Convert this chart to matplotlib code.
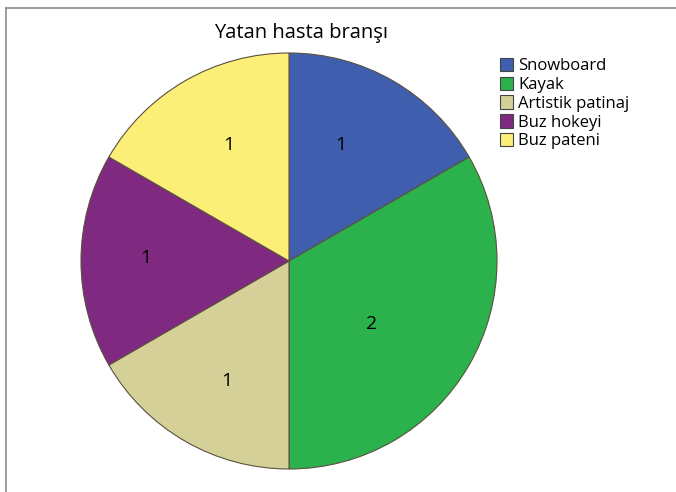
import matplotlib.pyplot as plt
from matplotlib.lines import Line2D
from matplotlib.patches import Patch
import numpy as np

plt.rcParams['font.family'] = ['Open Sans', 'DejaVu Sans']

branslar = ["Snowboard", "Kayak", "Artistik patinaj", "Buz hokeyi", "Buz pateni"]
hasta_sayisi = [1, 2, 1, 1, 1]
renkler = ["#3f5fae", "#2bb24c", "#d5cf98", "#7f2a80", "#fbef78"]

# etiket yerleşimi: yarıçap oranı ve dilim ortasından açı kayması (derece)
etiket_uzaklik = [0.61, 0.50, 0.65, 0.69, 0.63]
etiket_kayma = [6, -7, 2.5, -1, -2.5]

W, H = 676, 492
fig = plt.figure(figsize=(W / 100, H / 100), dpi=100)
fig.patch.set_facecolor("white")

# dış çerçeve (sol ve üst kenar)
fig.add_artist(Line2D([6 / W, 6 / W], [0, 1 - 8 / H], transform=fig.transFigure,
                      color="#8c8c8c", lw=1.2))
fig.add_artist(Line2D([6 / W, 1], [1 - 8 / H, 1 - 8 / H], transform=fig.transFigure,
                      color="#8c8c8c", lw=1.2))

cx, cy, r = 289, 261, 208
ax = fig.add_axes([(cx - r) / W, 1 - (cy + r) / H, 2 * r / W, 2 * r / H])
wedges, _ = ax.pie(hasta_sayisi, colors=renkler, startangle=90, counterclock=False,
                   radius=1, wedgeprops=dict(edgecolor="#5a5040", linewidth=0.8))
ax.set_xlim(-1, 1)
ax.set_ylim(-1, 1)
ax.set_aspect("equal")
ax.axis("off")

for w, n, d, k in zip(wedges, hasta_sayisi, etiket_uzaklik, etiket_kayma):
    ang = np.deg2rad((w.theta1 + w.theta2) / 2 + k)
    ax.text(d * np.cos(ang), d * np.sin(ang), str(n), ha="center", va="center",
            fontsize=14, color="black")

fig.text(301 / W, 1 - 33 / H, "Yatan hasta branşı", ha="center", va="center",
         fontsize=14.5)

handles = [Patch(facecolor=c, edgecolor="#444444", linewidth=0.8) for c in renkler]
fig.legend(handles, branslar, loc="upper left", bbox_to_anchor=(500 / W, 1 - 58 / H),
           frameon=False, fontsize=12, handlelength=0.8, handleheight=0.85,
           handletextpad=0.3, labelspacing=0.14, borderpad=0, borderaxespad=0)

fig.savefig("out.png", dpi=100)
